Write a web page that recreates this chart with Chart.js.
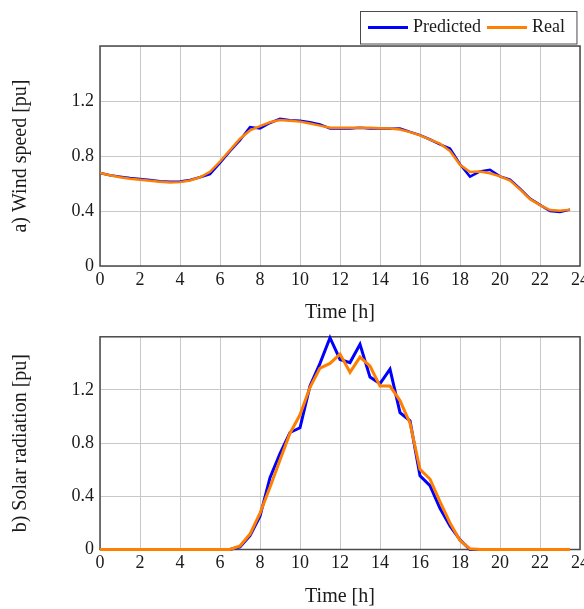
<!DOCTYPE html>
<html>
<head>
<meta charset="utf-8">
<script src="https://cdn.jsdelivr.net/npm/chart.js@4.4.1/dist/chart.umd.min.js"></script>
<style>
  body { margin: 0; background: #fff; }
  #wrap { position: relative; width: 584px; height: 609px; overflow: hidden; }
  canvas { position: absolute; left: 0; }
</style>
</head>
<body>
<div id="wrap">
  <canvas id="windChart" width="584" height="325" style="top:0"></canvas>
  <canvas id="solarChart" width="584" height="289" style="top:320px"></canvas>
</div>
<script>
// time of day, half-hour steps
const hours = [0, 0.5, 1, 1.5, 2, 2.5, 3, 3.5, 4, 4.5, 5, 5.5, 6, 6.5, 7, 7.5,
  8, 8.5, 9, 9.5, 10, 10.5, 11, 11.5, 12, 12.5, 13, 13.5, 14, 14.5, 15, 15.5,
  16, 16.5, 17, 17.5, 18, 18.5, 19, 19.5, 20, 20.5, 21, 21.5, 22, 22.5, 23, 23.5];

// a) wind speed [pu]
const windPredicted = [0.677, 0.66, 0.65, 0.64, 0.632, 0.625, 0.617, 0.613, 0.615, 0.625, 0.645, 0.668,
  0.75, 0.835, 0.915, 1.01, 1.0, 1.04, 1.07, 1.06, 1.057, 1.045, 1.03, 1.0,
  1.0, 1.0, 1.005, 1.0, 1.0, 0.998, 1.0, 0.975, 0.952, 0.92, 0.885, 0.855,
  0.74, 0.65, 0.688, 0.7, 0.652, 0.628, 0.562, 0.49, 0.445, 0.4, 0.393, 0.41];
const windReal = [0.676, 0.66, 0.645, 0.635, 0.628, 0.62, 0.612, 0.608, 0.61, 0.622, 0.645, 0.685,
  0.76, 0.843, 0.926, 0.986, 1.017, 1.045, 1.062, 1.057, 1.05, 1.036, 1.021, 1.005,
  1.005, 1.005, 1.005, 1.005, 1.002, 1.0, 0.993, 0.974, 0.95, 0.919, 0.89, 0.836,
  0.736, 0.683, 0.688, 0.674, 0.652, 0.621, 0.557, 0.486, 0.443, 0.407, 0.402, 0.41];

// b) solar radiation [pu]
const solarPredicted = [0, 0, 0, 0, 0, 0, 0, 0, 0, 0, 0, 0, 0, 0,
  0.02, 0.104, 0.25, 0.54, 0.722, 0.88, 0.916, 1.23, 1.4, 1.593, 1.43, 1.406,
  1.544, 1.297, 1.248, 1.357, 1.03, 0.968, 0.555, 0.48, 0.31, 0.178, 0.073, 0,
  0, 0, 0, 0, 0, 0, 0, 0, 0, 0];
const solarReal = [0, 0, 0, 0, 0, 0, 0, 0, 0, 0, 0, 0, 0, 0,
  0.027, 0.116, 0.274, 0.468, 0.674, 0.875, 1.013, 1.22, 1.365, 1.4, 1.47, 1.333,
  1.447, 1.38, 1.229, 1.229, 1.12, 0.95, 0.603, 0.53, 0.36, 0.2, 0.068, 0.005,
  0, 0, 0, 0, 0, 0, 0, 0, 0, 0];

const seriesNames = ['Predicted', 'Real'];
const seriesColors = ['#0000ff', '#ff7f00'];
const xTickValues = [0, 2, 4, 6, 8, 10, 12, 14, 16, 18, 20, 22, 24];
const yTickValues = [0, 0.4, 0.8, 1.2, 1.6];
const yTickLabels = ['0', '0.4', '0.8', '1.2', ''];

const FONT = "'Liberation Serif', 'Times New Roman', serif";
const TEXT = '#1a1a1a';

function points(values) {
  return hours.map((h, i) => ({ x: h, y: values[i] }));
}

// box around the plot area, like the reference
const framePlugin = {
  id: 'frame',
  beforeDatasetsDraw(chart) {
    const a = chart.chartArea;
    const ctx = chart.ctx;
    ctx.save();
    ctx.strokeStyle = '#4a4a4a';
    ctx.lineWidth = 1.5;
    ctx.strokeRect(a.left, a.top, a.right - a.left, a.bottom - a.top);
    ctx.restore();
  }
};

// legend drawn in a framed box at the top right
const boxLegend = {
  id: 'boxLegend',
  afterDraw(chart) {
    const ctx = chart.ctx;
    const y = 27.5;
    ctx.save();
    ctx.font = '18px ' + FONT;
    ctx.textBaseline = 'middle';
    let x = 368;
    const left = 360.5;
    chart.data.datasets.forEach(ds => {
      ctx.strokeStyle = ds.borderColor;
      ctx.lineWidth = 3;
      ctx.beginPath();
      ctx.moveTo(x, y);
      ctx.lineTo(x + 40, y);
      ctx.stroke();
      x += 45;
      ctx.fillStyle = TEXT;
      ctx.fillText(ds.label, x, y);
      x += ctx.measureText(ds.label).width + 6;
    });
    ctx.strokeStyle = '#4a4a4a';
    ctx.lineWidth = 1;
    ctx.strokeRect(left, 11.5, x + 6 - left, 32.5);
    ctx.restore();
  }
};

function makeChart(id, yTitle, predicted, real, padTop, xAxisHeight, lineW, extraPlugins) {
  const ctx = document.getElementById(id).getContext('2d');
  return new Chart(ctx, {
    type: 'line',
    data: {
      datasets: [
        { label: seriesNames[0], data: points(predicted), borderColor: seriesColors[0],
          borderWidth: lineW, pointRadius: 0, tension: 0, order: 1, clip: false },
        { label: seriesNames[1], data: points(real), borderColor: seriesColors[1],
          borderWidth: lineW, pointRadius: 0, tension: 0, order: 0, clip: false }
      ]
    },
    options: {
      responsive: false,
      animation: false,
      devicePixelRatio: 1,
      layout: { padding: { top: padTop, right: 4, bottom: 0, left: 0 } },
      plugins: { legend: { display: false }, tooltip: { enabled: false } },
      scales: {
        x: {
          type: 'linear',
          min: 0,
          max: 24,
          afterBuildTicks: scale => { scale.ticks = xTickValues.map(v => ({ value: v })); },
          afterFit: scale => {
            scale.height = xAxisHeight;
            // let the "24" label run off the edge as in the reference
            scale.paddingLeft = 0;
            scale.paddingRight = 0;
          },
          grid: { color: '#c8c8c8', lineWidth: 1, drawTicks: false },
          border: { display: false },
          ticks: { color: TEXT, font: { family: FONT, size: 18 }, padding: 3, maxRotation: 0 },
          title: { display: true, text: 'Time [h]', color: TEXT,
                   font: { family: FONT, size: 20 }, padding: { top: 0, bottom: 0 } }
        },
        y: {
          min: 0,
          max: 1.6,
          afterBuildTicks: scale => { scale.ticks = yTickValues.map(v => ({ value: v })); },
          afterFit: scale => { scale.width = 100; },
          grid: { color: '#c8c8c8', lineWidth: 1, drawTicks: false },
          border: { display: false },
          ticks: {
            color: TEXT, font: { family: FONT, size: 18 }, padding: 6,
            callback: (v, i) => yTickLabels[i]
          },
          title: { display: true, text: yTitle, color: TEXT,
                   font: { family: FONT, size: 20 }, padding: { top: 9, bottom: 0 } }
        }
      }
    },
    plugins: [framePlugin].concat(extraPlugins)
  });
}

makeChart('windChart', 'a) Wind speed [pu]', windPredicted, windReal, 46, 59, 2.5, [boxLegend]);
makeChart('solarChart', 'b) Solar radiation [pu]', solarPredicted, solarReal, 10, 59.5, 3, []);
</script>
</body>
</html>
